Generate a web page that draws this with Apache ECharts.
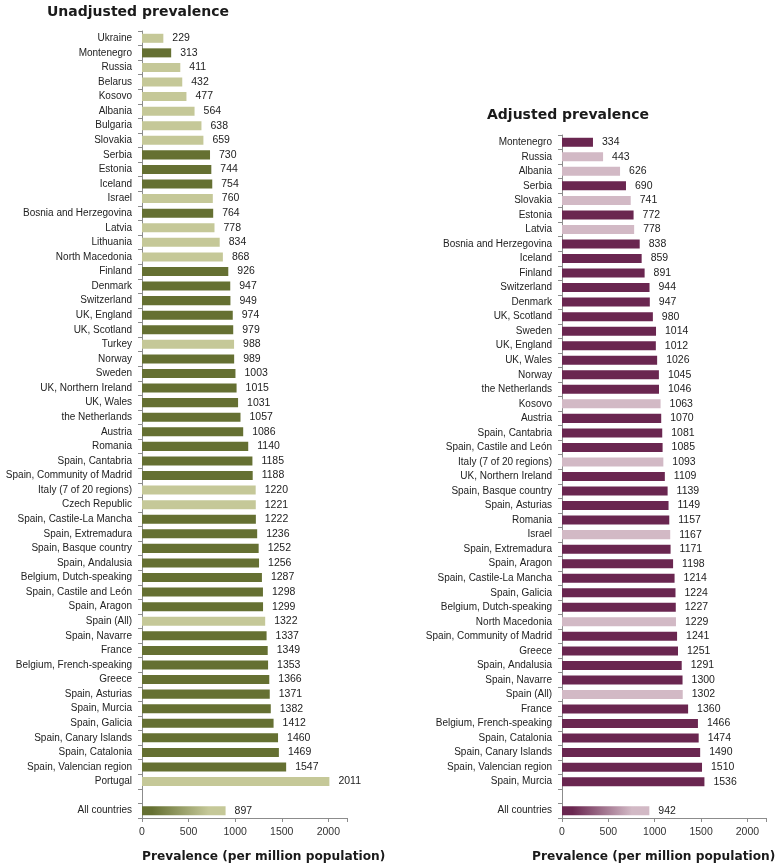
<!DOCTYPE html>
<html><head><meta charset="utf-8">
<script src="https://cdn.jsdelivr.net/npm/echarts@6/dist/echarts.min.js"></script>
<style>html,body{margin:0;padding:0;background:#fff}#c{width:780px;height:867px}</style>
</head><body><div id="c"></div>
<script>
const unadjCategories = ["Ukraine","Montenegro","Russia","Belarus","Kosovo","Albania","Bulgaria","Slovakia","Serbia","Estonia","Iceland","Israel","Bosnia and Herzegovina","Latvia","Lithuania","North Macedonia","Finland","Denmark","Switzerland","UK, England","UK, Scotland","Turkey","Norway","Sweden","UK, Northern Ireland","UK, Wales","the Netherlands","Austria","Romania","Spain, Cantabria","Spain, Community of Madrid","Italy (7 of 20 regions)","Czech Republic","Spain, Castile-La Mancha","Spain, Extremadura","Spain, Basque country","Spain, Andalusia","Belgium, Dutch-speaking","Spain, Castile and León","Spain, Aragon","Spain (All)","Spain, Navarre","France","Belgium, French-speaking","Greece","Spain, Asturias","Spain, Murcia","Spain, Galicia","Spain, Canary Islands","Spain, Catalonia","Spain, Valencian region","Portugal","","All countries"];
const unadjValues = [229,313,411,432,477,564,638,659,730,744,754,760,764,778,834,868,926,947,949,974,979,988,989,1003,1015,1031,1057,1086,1140,1185,1188,1220,1221,1222,1236,1252,1256,1287,1298,1299,1322,1337,1349,1353,1366,1371,1382,1412,1460,1469,1547,2011,null,897];
const unadjLight = ["Ukraine","Russia","Belarus","Kosovo","Albania","Bulgaria","Slovakia","Israel","Latvia","Lithuania","North Macedonia","Turkey","Italy (7 of 20 regions)","Czech Republic","Spain (All)","Portugal"];

const adjCategories = ["Montenegro","Russia","Albania","Serbia","Slovakia","Estonia","Latvia","Bosnia and Herzegovina","Iceland","Finland","Switzerland","Denmark","UK, Scotland","Sweden","UK, England","UK, Wales","Norway","the Netherlands","Kosovo","Austria","Spain, Cantabria","Spain, Castile and León","Italy (7 of 20 regions)","UK, Northern Ireland","Spain, Basque country","Spain, Asturias","Romania","Israel","Spain, Extremadura","Spain, Aragon","Spain, Castile-La Mancha","Spain, Galicia","Belgium, Dutch-speaking","North Macedonia","Spain, Community of Madrid","Greece","Spain, Andalusia","Spain, Navarre","Spain (All)","France","Belgium, French-speaking","Spain, Catalonia","Spain, Canary Islands","Spain, Valencian region","Spain, Murcia","","All countries"];
const adjValues = [334,443,626,690,741,772,778,838,859,891,944,947,980,1014,1012,1026,1045,1046,1063,1070,1081,1085,1093,1109,1139,1149,1157,1167,1171,1198,1214,1224,1227,1229,1241,1251,1291,1300,1302,1360,1466,1474,1490,1510,1536,null,942];
const adjLight = ["Russia","Albania","Slovakia","Latvia","Kosovo","Italy (7 of 20 regions)","Israel","North Macedonia","Spain (All)"];

const xTicks = [0,500,1000,1500,2000];

const FONT = "Liberation Sans";
const TFONT = "DejaVu Sans";

function buildData(cats, vals, light, dark, lightC) {
  return vals.map((v, i) => {
    const c = cats[i];
    let color;
    if (c === "All countries") {
      color = new echarts.graphic.LinearGradient(0, 0, 1, 0, [
        {offset: 0, color: dark}, {offset: 0.12, color: dark}, {offset: 0.8, color: lightC}, {offset: 1, color: lightC}
      ]);
    } else {
      color = light.includes(c) ? lightC : dark;
    }
    return {value: v, itemStyle: {color}};
  });
}

const chart = echarts.init(document.getElementById('c'), null, {renderer: 'canvas'});

function xAxisCfg(gi) {
  return {
    gridIndex: gi, type: 'value', min: 0, max: 2200, interval: 500,
    axisLine: {show: true, lineStyle: {color: '#8c8c8c', width: 1}},
    axisTick: {show: true, length: 4, lineStyle: {color: '#8c8c8c'}},
    splitLine: {show: false},
    axisLabel: {fontFamily: FONT, fontSize: 10.5, color: '#333', margin: 9,
      formatter: v => xTicks.includes(v) ? String(v) : ''}
  };
}
function yAxisCfg(gi, cats) {
  return {
    gridIndex: gi, type: 'category', data: cats, inverse: true,
    axisLine: {show: true, lineStyle: {color: '#8c8c8c', width: 1}},
    axisTick: {show: true, length: 4, lineStyle: {color: '#8c8c8c'}},
    axisLabel: {fontFamily: FONT, fontSize: 10, color: '#222', margin: 10, interval: 0}
  };
}
const labelCfg = {show: true, position: 'right', distance: 9, fontFamily: FONT, fontSize: 10.5, color: '#222'};

chart.setOption({
  animation: false,
  grid: [
    {left: 142, top: 31, width: 205, height: 787, containLabel: false},
    {left: 562, top: 135, width: 204, height: 683, containLabel: false}
  ],
  xAxis: [xAxisCfg(0), xAxisCfg(1)],
  yAxis: [yAxisCfg(0, unadjCategories), yAxisCfg(1, adjCategories)],
  series: [
    {type: 'bar', xAxisIndex: 0, yAxisIndex: 0, barWidth: '62%',
     data: buildData(unadjCategories, unadjValues, unadjLight, '#657032', '#c5c898'),
     label: labelCfg},
    {type: 'bar', xAxisIndex: 1, yAxisIndex: 1, barWidth: '62%',
     data: buildData(adjCategories, adjValues, adjLight, '#6a2650', '#d2b9c5'),
     label: labelCfg}
  ],
  graphic: [
    {type: 'text', left: 47, top: 5, style: {text: 'Unadjusted prevalence', font: 'bold 14px "' + TFONT + '"', fill: '#1a1a1a'}},
    {type: 'text', left: 487, top: 108, style: {text: 'Adjusted prevalence', font: 'bold 14px "' + TFONT + '"', fill: '#1a1a1a'}},
    {type: 'text', left: 142, top: 851, style: {text: 'Prevalence (per million population)', font: 'bold 12.2px "' + TFONT + '"', fill: '#1a1a1a'}},
    {type: 'text', left: 532, top: 851, style: {text: 'Prevalence (per million population)', font: 'bold 12.2px "' + TFONT + '"', fill: '#1a1a1a'}}
  ]
});
</script></body></html>
